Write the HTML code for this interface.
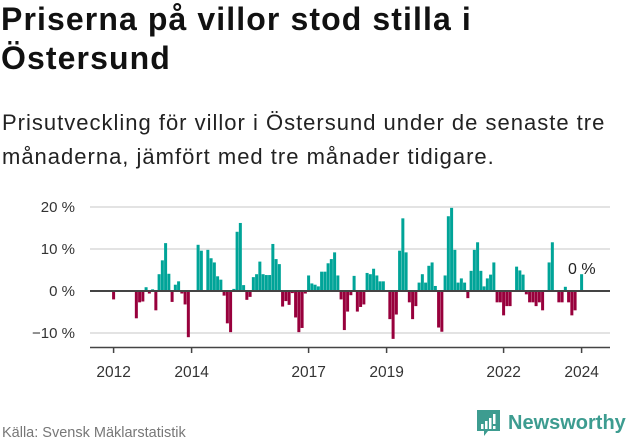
<!DOCTYPE html>
<html><head><meta charset="utf-8"><style>
body{margin:0;width:631px;height:439px;background:#fff;overflow:hidden;font-family:"Liberation Sans",sans-serif;color:#111}
#t{position:absolute;left:1px;top:0px;font-size:32px;font-weight:bold;line-height:39px;margin:0;letter-spacing:1.1px}
#s{position:absolute;left:2px;top:106px;font-size:22px;line-height:34px;margin:0;color:#222;letter-spacing:1px}
svg{position:absolute;left:0;top:0}
</style></head><body>
<h1 id="t">Priserna på villor stod stilla i<br>Östersund</h1>
<p id="s">Prisutveckling för villor i Östersund under de senaste tre<br>månaderna, jämfört med tre månader tidigare.</p>
<svg width="631" height="439">
<g id="grid"></g><g id="bars"></g><g id="axis"></g>
<text x="568" y="274" font-size="16" fill="#222">0 %</text>
<text x="2" y="437" font-size="14.5" fill="#777">Källa: Svensk Mäklarstatistik</text>
<g>
<path d="M477 410h23v21h-12l-4 5v-5h-7z" fill="#3d9c90"/>
<rect x="481" y="424" width="2.5" height="5" fill="#fff"/><rect x="485" y="421" width="2.5" height="8" fill="#fff"/><rect x="489" y="418" width="2.5" height="11" fill="#fff"/><rect x="493" y="414" width="2.5" height="10" fill="#fff"/><rect x="493" y="426" width="2.5" height="3" fill="#fff"/>
<text x="508" y="429" font-size="20" font-weight="bold" fill="#3d9c90">Newsworthy</text>
</g>
</svg>
<script>
const values=[-2,0,0,0,0,0,0,-6.5,-2.7,-2.5,0.9,-0.6,0.4,-4.6,4,7.3,11.4,4.1,-2.6,1.5,2.3,-0.6,-3.2,-11,0,0,11,9.6,0,9.8,7.8,6.8,3.5,2.7,-1.1,-7.7,-9.8,0.5,14.1,16.2,1.4,-2.1,-1.4,3.3,4,7,4,3.8,3.8,11.2,7.6,6.4,-3.7,-2.4,-3.3,-0.5,-6.3,-9.8,-8.8,-0.6,3.7,1.8,1.5,1.1,4.6,4.6,6.6,7.6,9.2,3.7,-2,-9.3,-4.9,-1,3.6,-4.9,-3.8,-3.2,4.3,4,5.3,3.7,2.3,2.3,0,-6.7,-11.4,-5.6,9.6,17.3,9.2,-2.7,-6.7,-3.6,2,4,2,6,6.8,1.2,-8.7,-9.7,3.7,17.8,19.8,9.8,2,3,2,-1.7,4.8,9.8,11.6,4.8,1.1,3,3.9,6.8,-2.7,-2.7,-5.8,-3.6,-3.6,0,5.8,4.9,3.9,-0.8,-2.7,-2.7,-3.6,-2.7,-4.6,0,6.8,11.6,0,-2.7,-2.7,1,-2.7,-5.8,-4.6,0,4];
const yTicks=[20,10,0,-10];
const yLabels=["20 %","10 %","0 %","−10 %"];
const xYears=[2012,2014,2017,2019,2022,2024];
const startYear=2012;
const NS="http://www.w3.org/2000/svg";
function y(v){return 291-v*4.2;}
function x(i){return 112.1+3.25*i;}
function xYear(yr){return 113.6+3.25*12*(yr-startYear);}
function mk(tag,attrs,parent){const e=document.createElementNS(NS,tag);for(const k in attrs)e.setAttribute(k,attrs[k]);parent.appendChild(e);return e;}
const grid=document.getElementById('grid'),bars=document.getElementById('bars'),axis=document.getElementById('axis');
yTicks.forEach((t,k)=>{
  if(t!==0){const l=mk('line',{x1:90,x2:610,y1:y(t),y2:y(t),stroke:'#e3e3e3','stroke-width':2},grid);
  
  }
  const tx=mk('text',{x:75,y:y(t)+5,'text-anchor':'end','font-size':15,fill:'#333'},grid);
  tx.textContent=yLabels[k];
  
  
});
values.forEach((v,i)=>{
  if(v===0)return;
  const r=mk('rect',{x:x(i),y:Math.min(y(v),y(0)),width:3,height:Math.abs(y(v)-y(0)),fill:v>0?'#00a498':'#98003c'},bars);
  
  
});
const z=mk('line',{x1:90,x2:610,y1:y(0),y2:y(0),stroke:'#444','stroke-width':2},axis);


const ax=mk('line',{x1:90,x2:610,y1:347.5,y2:347.5,stroke:'#444','stroke-width':1.5},axis);


xYears.forEach(yr=>{
  const t=mk('line',{x1:xYear(yr),x2:xYear(yr),y1:347,y2:353,stroke:'#444','stroke-width':1.5},axis);
  
  
  const tx=mk('text',{x:xYear(yr),y:377,'text-anchor':'middle','font-size':15.5,fill:'#333'},axis);
  tx.textContent=yr;
  
  
});
</script>
</body></html>
